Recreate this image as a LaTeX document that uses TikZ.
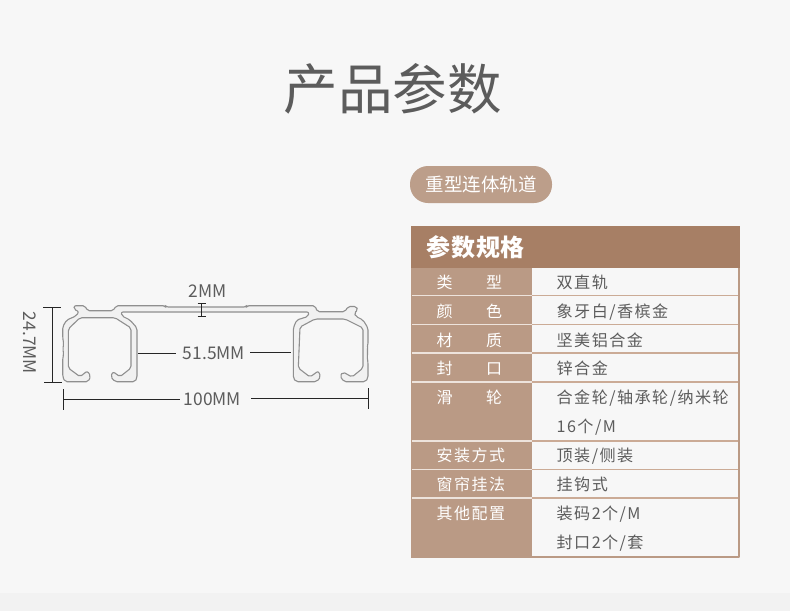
\documentclass[tikz,border=0pt]{standalone}
\usepackage{fontspec}
\setmainfont{Noto Sans CJK SC}
\newfontfamily\spacedfont[LetterSpace=9]{Noto Sans CJK SC}
\newfontfamily\headfont[LetterSpace=3]{Noto Sans CJK SC}
\usetikzlibrary{positioning}
\definecolor{pagebg}{HTML}{F7F7F7}
\definecolor{pagefoot}{HTML}{F2F2F2}
\definecolor{inkgray}{HTML}{5C5C5C}
\definecolor{railedge}{HTML}{8F8F8F}
\definecolor{railfill}{HTML}{F1F1F1}
\definecolor{headbrown}{HTML}{A77F65}
\definecolor{cellbrown}{HTML}{BA9A85}
\definecolor{pillbrown}{HTML}{BC9E8A}
\definecolor{rulebrown}{HTML}{CBAB96}
\definecolor{rulepale}{HTML}{EDE3DC}
\begin{document}
\begin{tikzpicture}[x=1pt,y=-1pt,line join=bevel,
  title/.style={inner sep=0pt,text=inkgray,font=\fontsize{54.5}{60}\selectfont},
  dimtext/.style={inner sep=0pt,text=inkgray,font=\fontsize{17.4}{20}\selectfont},
  dimline/.style={draw=black!85,line width=0.9pt},
  headtext/.style={anchor=west,inner sep=0pt,text=white,font=\fontsize{24}{28}\selectfont\bfseries\headfont},
  keytext/.style={anchor=west,inner sep=0pt,text=white,font=\fontsize{16}{18}\selectfont\spacedfont},
  valtext/.style={anchor=west,inner sep=0pt,text=inkgray,font=\fontsize{16.1}{18}\selectfont\spacedfont},
  keyrule/.style={draw=rulepale,line width=1.3pt},
  valrule/.style={draw=rulebrown,line width=1.3pt},
]
\useasboundingbox (0,0) rectangle (790,611);
\fill [pagebg] (0,0) rectangle (790,611);
\fill [pagefoot] (0,593) rectangle (790,611);
%%
\node (node_title) at (392.5,88.5) [title] {产品参数};
\node (node_pill) at (481,184.5) [fill=pillbrown,rounded corners=18pt,minimum width=142pt,minimum height=37pt,inner sep=0pt,text=white,font=\fontsize{18.5}{22}\selectfont] {重型连体轨道};
%% table
\node (node_box) at (575.5,392) [draw=cellbrown,line width=2pt,minimum width=327pt,minimum height=330pt,inner sep=0pt] {};
\node (node_keys) at (471.5,413) [fill=cellbrown,minimum width=121pt,minimum height=290pt,inner sep=0pt] {};
\node (node_head) at (575.5,247) [fill=headbrown,minimum width=329pt,minimum height=42pt,inner sep=0pt] {};
\node (node_headtext) at (426.5,247) [headtext] {参数规格};
%%
\coordinate (key_a) at (412,295.5);  \coordinate (mid_a) at (532,295.5);  \coordinate (end_a) at (738,295.5);
\coordinate (key_b) at (412,324.5);  \coordinate (mid_b) at (532,324.5);  \coordinate (end_b) at (738,324.5);
\coordinate (key_c) at (412,353);    \coordinate (mid_c) at (532,353);    \coordinate (end_c) at (738,353);
\coordinate (key_d) at (412,382);    \coordinate (mid_d) at (532,382);    \coordinate (end_d) at (738,382);
\coordinate (key_e) at (412,441);    \coordinate (mid_e) at (532,441);    \coordinate (end_e) at (738,441);
\coordinate (key_f) at (412,469.5);  \coordinate (mid_f) at (532,469.5);  \coordinate (end_f) at (738,469.5);
\coordinate (key_g) at (412,498);    \coordinate (mid_g) at (532,498);    \coordinate (end_g) at (738,498);
\draw [keyrule] (key_a) -- (mid_a);  \draw [valrule] (mid_a) -- (end_a);
\draw [keyrule] (key_b) -- (mid_b);  \draw [valrule] (mid_b) -- (end_b);
\draw [keyrule] (key_c) -- (mid_c);  \draw [valrule] (mid_c) -- (end_c);
\draw [keyrule] (key_d) -- (mid_d);  \draw [valrule] (mid_d) -- (end_d);
\draw [keyrule] (key_e) -- (mid_e);  \draw [valrule] (mid_e) -- (end_e);
\draw [keyrule] (key_f) -- (mid_f);  \draw [valrule] (mid_f) -- (end_f);
\draw [keyrule] (key_g) -- (mid_g);  \draw [valrule] (mid_g) -- (end_g);
%%
\node (node_k1) at (436.5,282.7) [keytext] {类\hspace{33.5pt}型};
\node (node_k2) at (436.5,311.7) [keytext] {颜\hspace{33.5pt}色};
\node (node_k3) at (436.5,340.2) [keytext] {材\hspace{33.5pt}质};
\node (node_k4) at (436.5,368.7) [keytext] {封\hspace{33.5pt}口};
\node (node_k5) at (436.5,397.7) [keytext] {滑\hspace{33.5pt}轮};
\node (node_k6) at (436.5,455.7) [keytext] {安装方式};
\node (node_k7) at (436.5,484.7) [keytext] {窗帘挂法};
\node (node_k8) at (436.5,513.7) [keytext] {其他配置};
\node (node_v1) at (556.5,282.7) [valtext] {双直轨};
\node (node_v2) at (556.5,311.7) [valtext] {象牙白/香槟金};
\node (node_v3) at (556.5,340.2) [valtext] {坚美铝合金};
\node (node_v4) at (556.5,368.7) [valtext] {锌合金};
\node (node_v5) at (556.5,397.7) [valtext] {合金轮/轴承轮/纳米轮};
\node (node_v6) at (556.5,426.7) [valtext] {16个/M};
\node (node_v7) at (556.5,455.7) [valtext] {顶装/侧装};
\node (node_v8) at (556.5,484.7) [valtext] {挂钩式};
\node (node_v9) at (556.5,513.7) [valtext] {装码2个/M};
\node (node_v10) at (556.5,542.7) [valtext] {封口2个/套};
%% rail section
\draw [railedge,fill=railfill,line width=1.1pt,rounded corners=2pt]
  (74,305.7) -- (85,305.7) -- (87.3,310.7) -- (113.3,310.7) -- (116,305.7)
  -- (165,305.7) -- (166,307) -- (246,307) -- (247,305.7)
  -- (315,305.7) -- (317.3,311.7) -- (345,311.7) -- (348,306.5) -- (356.5,306.5)
  -- (358,310) -- (354,313) -- (356,316.5) -- (363,320) -- (368,328)
  -- (368,345) -- (367,348) -- (368,352) -- (367,356) -- (368,362) -- (368,378)
  -- (365.5,381.7) -- (344,381.7) -- (340,376) -- (343,372) -- (352,377) -- (363,368)
  -- (363,328) -- (345,319) -- (315,319) -- (300,327) -- (298.3,368) -- (310,377)
  -- (318.3,371) -- (320.7,376.7) -- (316.7,381.7) -- (296,381.7) -- (293.3,378)
  -- (293.3,328) -- (296.7,320) -- (308,316.5) -- (309,312) -- (121,312) -- (122,316)
  -- (130,320) -- (137,328) -- (137,378) -- (135,381.7) -- (115,381.7) -- (110.7,376.7)
  -- (113,371.7) -- (120,376.7) -- (131,368) -- (131,328) -- (115,317.7) -- (80,317.7)
  -- (68.3,329) -- (68.3,368) -- (80,376.7) -- (87.3,371) -- (90.7,376) -- (88.3,381.7)
  -- (65,381.7) -- (62.7,376.7) -- (62.7,358) -- (63.8,354) -- (62.7,349) -- (63.8,344)
  -- (62.7,338) -- (62.7,326.7) -- (66.7,320) -- (76,316) -- (79,311.7) -- (74,309.3) -- cycle;
%% dimensions
\node (node_h) at (29.5,343) [dimtext,rotate=-90] {24.7MM};
\coordinate (h_top) at (52.7,307.5);  \coordinate (h_bot) at (52.7,382);
\coordinate (h_topa) at (43,307.5);   \coordinate (h_topb) at (61,307.5);
\coordinate (h_bota) at (44,382);     \coordinate (h_botb) at (62,382);
\draw [dimline] (h_top) -- (h_bot);
\draw [dimline] (h_topa) -- (h_topb);
\draw [dimline] (h_bota) -- (h_botb);
%%
\node (node_t) at (207.5,291.5) [dimtext] {2MM};
\coordinate (t_top) at (201.5,303.5);  \coordinate (t_bot) at (201.5,316.5);
\coordinate (t_topa) at (197.5,303.5); \coordinate (t_topb) at (205.5,303.5);
\coordinate (t_bota) at (197.5,316.5); \coordinate (t_botb) at (205.5,316.5);
\draw [dimline,line width=0.7pt] (t_top) -- (t_bot);
\draw [dimline,line width=0.7pt] (t_topa) -- (t_topb);
\draw [dimline,line width=0.7pt] (t_bota) -- (t_botb);
%%
\node (node_w) at (214,353.5) [dimtext] {51.5MM};
\coordinate (w_left) at (138,353);  \coordinate (w_right) at (291,352.5);
\coordinate (w_lefte) at (176,353); \coordinate (w_righte) at (250,352.5);
\draw [dimline] (w_left) -- (w_lefte);
\draw [dimline] (w_righte) -- (w_right);
%%
\node (node_l) at (212.5,399) [dimtext] {100MM};
\coordinate (l_a) at (63.3,389);   \coordinate (l_b) at (63.3,409.5);
\coordinate (l_c) at (368.3,388);  \coordinate (l_d) at (368.3,409);
\coordinate (l_left) at (63.3,399); \coordinate (l_right) at (368.3,398.5);
\coordinate (l_lefte) at (180,399); \coordinate (l_righte) at (251,398.5);
\draw [dimline] (l_a) -- (l_b);
\draw [dimline] (l_c) -- (l_d);
\draw [dimline] (l_left) -- (l_lefte);
\draw [dimline] (l_righte) -- (l_right);
%
\end{tikzpicture}
\end{document}
